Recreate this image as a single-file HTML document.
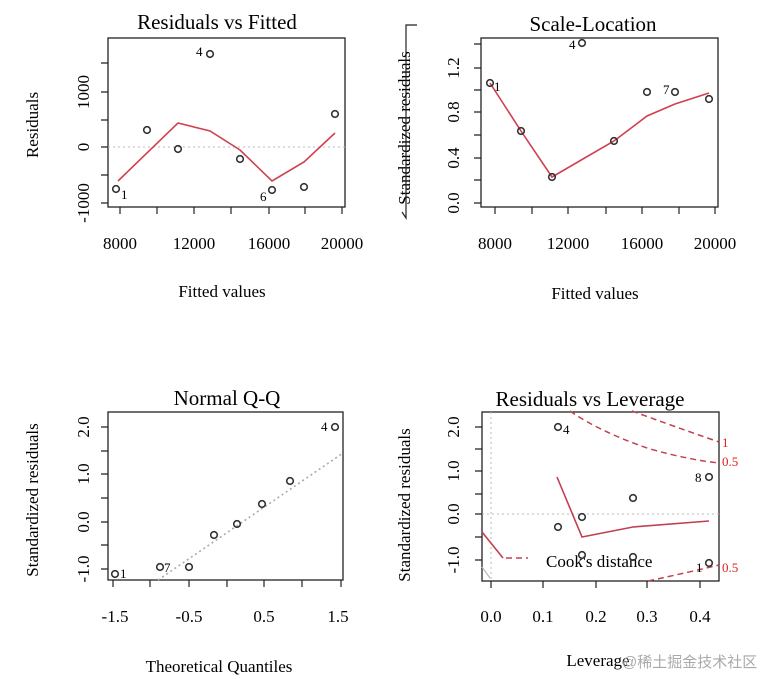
<!DOCTYPE html>
<html><head><meta charset="utf-8"><style>body{margin:0;background:#fff}svg{display:block}</style></head><body>
<svg width="760" height="679" xmlns="http://www.w3.org/2000/svg" font-family="Liberation Serif, serif" fill="#000">
<g fill="none" stroke="#222" stroke-width="1.3">
<rect x="108" y="38" width="237" height="169"/>
<rect x="481" y="38" width="237" height="169"/>
<rect x="108" y="412" width="235" height="168"/>
<rect x="482" y="412" width="237" height="169"/>
</g>
<!-- Panel 1 -->
<text x="217" y="29" font-size="21" text-anchor="middle">Residuals vs Fitted</text>
<g stroke="#222" stroke-width="1.2">
<path d="M120 207v7M157 207v7M194 207v7M231 207v7M269 207v7M305 207v7M342 207v7"/>
<path d="M108 63h-7M108 92h-7M108 120h-7M108 147h-7M108 175h-7M108 203h-7"/>
</g>
<g font-size="17" text-anchor="middle">
<text x="120" y="249">8000</text><text x="194" y="249">12000</text><text x="269" y="249">16000</text><text x="342" y="249">20000</text>
<text transform="translate(89,92) rotate(-90)">1000</text>
<text transform="translate(89,147) rotate(-90)">0</text>
<text transform="translate(89,203) rotate(-90)">-1000</text>
<text x="222" y="297">Fitted values</text>
<text transform="translate(38,125) rotate(-90)">Residuals</text>
</g>
<line x1="108" y1="147" x2="345" y2="147" stroke="#bbb" stroke-dasharray="2,3"/>
<polyline points="118,181 178,123 210,131 240,150 272,181 304,162 335,133" fill="none" stroke="#d04050" stroke-width="1.6"/>
<g fill="none" stroke="#333" stroke-width="1.6">
<circle cx="116" cy="189" r="3.3"/><circle cx="147" cy="130" r="3.3"/><circle cx="178" cy="149" r="3.3"/><circle cx="210" cy="54" r="3.3"/><circle cx="240" cy="159" r="3.3"/><circle cx="272" cy="190" r="3.3"/><circle cx="304" cy="187" r="3.3"/><circle cx="335" cy="114" r="3.3"/>
</g>
<g font-size="13"><text x="121" y="199">1</text><text x="196" y="56">4</text><text x="260" y="201">6</text></g>
<!-- Panel 2 -->
<text x="593" y="31" font-size="21" text-anchor="middle">Scale-Location</text>
<g stroke="#222" stroke-width="1.2">
<path d="M495 207v7M532 207v7M568 207v7M606 207v7M642 207v7M679 207v7M715 207v7"/>
<path d="M481 44h-7M481 68h-7M481 90h-7M481 112h-7M481 135h-7M481 158h-7M481 180h-7M481 203h-7"/>
</g>
<g font-size="17" text-anchor="middle">
<text x="495" y="249">8000</text><text x="568" y="249">12000</text><text x="642" y="249">16000</text><text x="715" y="249">20000</text>
<text transform="translate(459,68) rotate(-90)">1.2</text>
<text transform="translate(459,112) rotate(-90)">0.8</text>
<text transform="translate(459,158) rotate(-90)">0.4</text>
<text transform="translate(459,203) rotate(-90)">0.0</text>
<text x="595" y="299">Fitted values</text>
<text transform="translate(410,128) rotate(-90)">Standardized residuals</text>
</g>
<path d="M402 212l4 6V25h11" fill="none" stroke="#222" stroke-width="1.2"/>
<polyline points="490,83 521,131 552,177 614,141 647,116 675,104 709,93" fill="none" stroke="#d04050" stroke-width="1.6"/>
<g fill="none" stroke="#333" stroke-width="1.6">
<circle cx="490" cy="83" r="3.3"/><circle cx="521" cy="131" r="3.3"/><circle cx="552" cy="177" r="3.3"/><circle cx="582" cy="43" r="3.3"/><circle cx="614" cy="141" r="3.3"/><circle cx="647" cy="92" r="3.3"/><circle cx="675" cy="92" r="3.3"/><circle cx="709" cy="99" r="3.3"/>
</g>
<g font-size="13"><text x="494" y="91">1</text><text x="569" y="49">4</text><text x="663" y="94">7</text></g>
<!-- Panel 3 -->
<text x="227" y="405" font-size="21" text-anchor="middle">Normal Q-Q</text>
<g stroke="#222" stroke-width="1.2">
<path d="M113 580v7M150 580v7M189 580v7M227 580v7M264 580v7M302 580v7M341 580v7"/>
<path d="M108 427h-7M108 451h-7M108 474h-7M108 498h-7M108 522h-7M108 545h-7M108 569h-7"/>
</g>
<g font-size="17" text-anchor="middle">
<text x="115" y="622">-1.5</text><text x="189" y="622">-0.5</text><text x="264" y="622">0.5</text><text x="338" y="622">1.5</text>
<text transform="translate(89,427) rotate(-90)">2.0</text>
<text transform="translate(89,474) rotate(-90)">1.0</text>
<text transform="translate(89,522) rotate(-90)">0.0</text>
<text transform="translate(89,569) rotate(-90)">-1.0</text>
<text x="219" y="672">Theoretical Quantiles</text>
<text transform="translate(38,500) rotate(-90)">Standardized residuals</text>
</g>
<line x1="158" y1="580" x2="343" y2="453" stroke="#aaa" stroke-width="1.6" stroke-dasharray="2,3"/>
<g fill="none" stroke="#333" stroke-width="1.6">
<circle cx="115" cy="574" r="3.3"/><circle cx="160" cy="567" r="3.3"/><circle cx="189" cy="567" r="3.3"/><circle cx="214" cy="535" r="3.3"/><circle cx="237" cy="524" r="3.3"/><circle cx="262" cy="504" r="3.3"/><circle cx="290" cy="481" r="3.3"/><circle cx="335" cy="427" r="3.3"/>
</g>
<g font-size="13"><text x="120" y="578">1</text><text x="164" y="572">7</text><text x="321" y="431">4</text></g>
<!-- Panel 4 -->
<text x="590" y="406" font-size="21" text-anchor="middle">Residuals vs Leverage</text>
<g stroke="#222" stroke-width="1.2">
<path d="M491 581v7M543 581v7M596 581v7M647 581v7M700 581v7"/>
<path d="M482 427h-7M482 449h-7M482 471h-7M482 494h-7M482 514h-7M482 537h-7M482 560h-7"/>
</g>
<g font-size="17" text-anchor="middle">
<text x="491" y="622">0.0</text><text x="543" y="622">0.1</text><text x="596" y="622">0.2</text><text x="647" y="622">0.3</text><text x="700" y="622">0.4</text>
<text transform="translate(459,427) rotate(-90)">2.0</text>
<text transform="translate(459,471) rotate(-90)">1.0</text>
<text transform="translate(459,514) rotate(-90)">0.0</text>
<text transform="translate(459,560) rotate(-90)">-1.0</text>
<text x="598" y="666">Leverage</text>
<text transform="translate(410,505) rotate(-90)">Standardized residuals</text>
</g>
<text x="546" y="567" font-size="17">Cook's distance</text>
<line x1="491" y1="412" x2="491" y2="581" stroke="#bbb" stroke-dasharray="2,3"/>
<line x1="482" y1="514" x2="719" y2="514" stroke="#bbb" stroke-dasharray="2,3"/>
<line x1="482" y1="567" x2="490" y2="578" stroke="#bbb" stroke-width="1.3"/>
<g fill="none" stroke="#c04050" stroke-width="1.5" stroke-dasharray="6,4">
<path d="M632 411Q670 425 719 442"/>
<path d="M570 411Q600 432 650 449Q690 460 719 463"/>
<path d="M648 581Q690 572 719 565"/>
<path d="M506 558h22"/>
</g>
<polyline points="557,477 582,537 633,527 709,521" fill="none" stroke="#c04050" stroke-width="1.6"/>
<polyline points="482,532 503,558" fill="none" stroke="#c04050" stroke-width="1.6"/>
<g fill="none" stroke="#333" stroke-width="1.6">
<circle cx="558" cy="427" r="3.3"/><circle cx="558" cy="527" r="3.3"/><circle cx="582" cy="517" r="3.3"/><circle cx="582" cy="555" r="3.3"/><circle cx="633" cy="498" r="3.3"/><circle cx="633" cy="557" r="3.3"/><circle cx="709" cy="477" r="3.3"/><circle cx="709" cy="563" r="3.3"/>
</g>
<g font-size="13"><text x="563" y="434">4</text><text x="695" y="482">8</text><text x="696" y="572">1</text></g>
<g font-size="13" fill="#e02020"><text x="722" y="447">1</text><text x="722" y="466">0.5</text><text x="722" y="572">0.5</text></g>
<text x="622" y="667" font-size="15" fill="#aaa" font-family="Liberation Sans, Noto Sans CJK SC, sans-serif">@稀土掘金技术社区</text>
</svg>
</body></html>
